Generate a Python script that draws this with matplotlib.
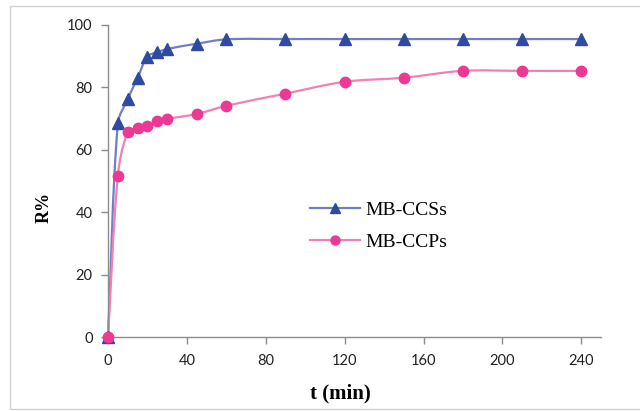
import numpy as np
import matplotlib
matplotlib.use("Agg")
import matplotlib.pyplot as plt
from matplotlib.path import Path
from matplotlib.patches import PathPatch, Rectangle
from matplotlib.lines import Line2D

# ---- data ----
t_min = [0, 5, 10, 15, 20, 25, 30, 45, 60, 90, 120, 150, 180, 210, 240]
r_ccss = [0, 68.5, 76.3, 83.0, 89.9, 91.3, 92.3, 94.0, 95.4, 95.5, 95.5, 95.5, 95.5, 95.5, 95.5]
r_ccps = [0, 51.6, 65.6, 66.9, 67.7, 69.3, 69.9, 71.5, 74.1, 78.0, 81.8, 83.1, 85.3, 85.3, 85.3]
series_names = ["MB-CCSs", "MB-CCPs"]
x_ticks = [0, 40, 80, 120, 160, 200, 240]
y_ticks = [0, 20, 40, 60, 80, 100]

BLUE_LINE, BLUE_MK = "#6f7fc2", "#2f4aa0"
PINK_LINE, PINK_MK = "#f27fb6", "#ec3a94"

XMAX, YMAX = 250, 100
SX, SY = 493 / XMAX, 312 / YMAX  # approx pixel scale for geometric smoothing


def smooth_path(x, y, k=0.33):
    p = np.column_stack([np.asarray(x, float) * SX, np.asarray(y, float) * SY])
    n = len(p)
    tang = []
    for i in range(n):
        a = p[i - 1] if i > 0 else p[i]
        b = p[i + 1] if i < n - 1 else p[i]
        d = b - a
        nd = np.hypot(*d)
        tang.append(d / nd if nd > 0 else d)
    verts = [p[0]]
    codes = [Path.MOVETO]
    for i in range(n - 1):
        L = np.hypot(*(p[i + 1] - p[i]))
        c1 = p[i] + tang[i] * L * k
        c2 = p[i + 1] - tang[i + 1] * L * k
        verts += [c1, c2, p[i + 1]]
        codes += [Path.CURVE4] * 3
    v = np.array(verts)
    v[:, 0] /= SX
    v[:, 1] /= SY
    return Path(v, codes)


fig = plt.figure(figsize=(6.4, 4.11), dpi=100)
ax = fig.add_axes([108 / 640, (411 - 337) / 411, 493 / 640, 312 / 411])

# outer frame (light gray)
fig.patches.append(Rectangle((10 / 640, 2 / 411), 1.2, (405 - 2) / 411,
                             transform=fig.transFigure, fill=False,
                             edgecolor="#d0d0d0", linewidth=1.0, clip_on=False))

for x, y, lc in [(t_min, r_ccss, BLUE_LINE), (t_min, r_ccps, PINK_LINE)]:
    ax.add_patch(PathPatch(smooth_path(x, y), facecolor="none", edgecolor=lc,
                           linewidth=1.6, clip_on=False, zorder=2))

ax.plot(t_min, r_ccss, linestyle="none", marker="^", markersize=8.5,
        color=BLUE_MK, clip_on=False, zorder=3)
ax.plot(t_min, r_ccps, linestyle="none", marker="o", markersize=7.5,
        color=PINK_MK, clip_on=False, zorder=4)

ax.set_xlim(0, XMAX)
ax.set_ylim(0, YMAX)
ax.set_xticks(x_ticks)
ax.set_yticks(y_ticks)

for s in ["top", "right"]:
    ax.spines[s].set_visible(False)
for s in ["left", "bottom"]:
    ax.spines[s].set_color("#8c8c8c")
    ax.spines[s].set_linewidth(1.0)

ax.tick_params(axis="both", direction="out", length=5, width=1.0,
               color="#8c8c8c", labelsize=10.5, labelcolor="#222222")
ax.tick_params(axis="x", pad=7)
ax.tick_params(axis="y", pad=6)
for lbl in ax.get_xticklabels() + ax.get_yticklabels():
    lbl.set_family("Lato")

ax.set_xlabel("t (min)", family="Liberation Serif", fontweight="bold", fontsize=15)
ax.xaxis.set_label_coords((340 - 108) / 493, (337 - 383) / 312)
ax.set_ylabel("R%", family="Liberation Serif", fontweight="bold", fontsize=13)
ax.yaxis.set_label_coords((53 - 108) / 493, (337 - 207) / 312)

handles = [
    Line2D([], [], color=BLUE_LINE, linewidth=1.6, marker="^", markersize=7,
           markerfacecolor=BLUE_MK, markeredgecolor=BLUE_MK),
    Line2D([], [], color=PINK_LINE, linewidth=1.6, marker="o", markersize=6.5,
           markerfacecolor=PINK_MK, markeredgecolor=PINK_MK),
]
leg = ax.legend(handles, series_names, loc="center left",
                bbox_to_anchor=((302 - 108) / 493, (337 - 226) / 312),
                frameon=False, handlelength=2.6, handletextpad=0.25,
                labelspacing=0.75, borderaxespad=0,
                prop={"family": "Liberation Serif", "size": 14})

fig.savefig("out.png", dpi=100)
